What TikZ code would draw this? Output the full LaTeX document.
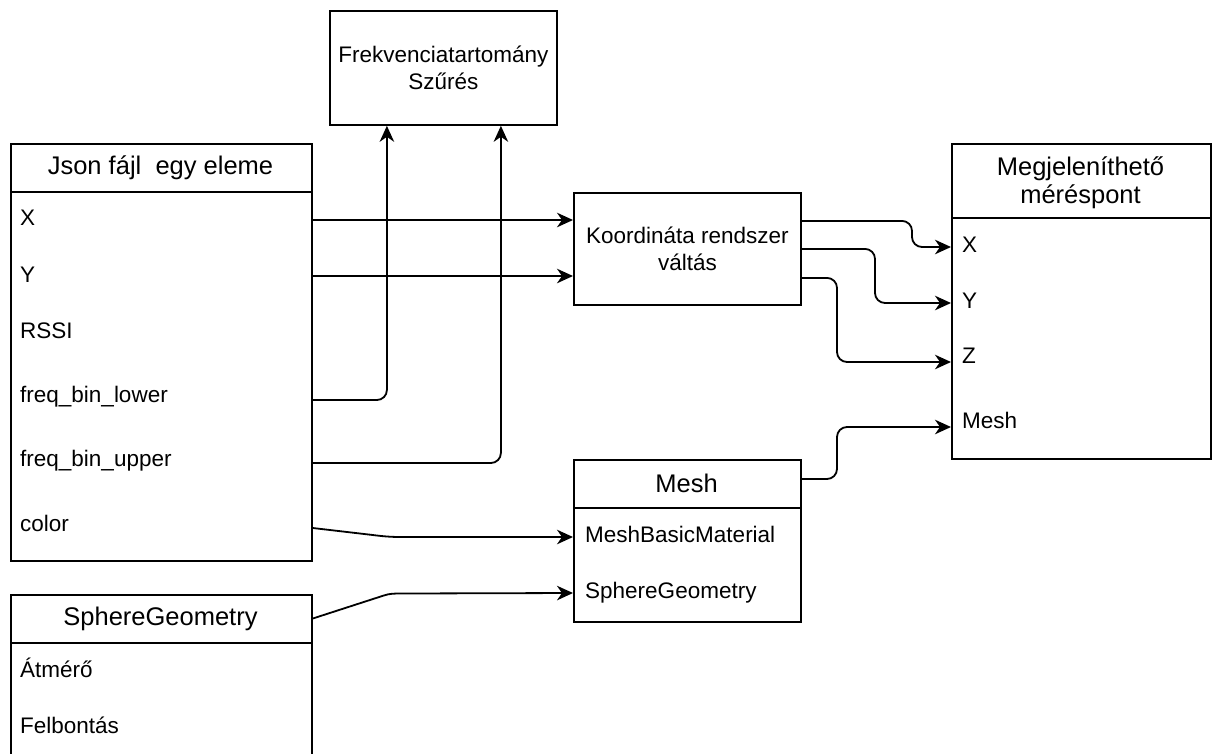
\documentclass[tikz,border=0pt]{standalone}
\usepackage{fontspec}
\setmainfont{Liberation Sans}
\usetikzlibrary{arrows.meta,calc}
\newcommand{\bodyfont}{\fontsize{22.5}{27}\selectfont}
\newcommand{\headfont}{\fontsize{25.5}{28}\selectfont}
\begin{document}
\begin{tikzpicture}[x=1pt,y=-1pt,
  box/.style={draw, line width=1.8pt, inner sep=0pt, anchor=north west},
  hdr/.style={font=\headfont, inner sep=0pt, align=center},
  txt/.style={font=\bodyfont, inner sep=0pt, anchor=base west},
  sepline/.style={line width=1.8pt},
  arr/.style={line width=1.8pt, -{Stealth[length=16pt,width=14.5pt,inset=5pt]}},
  con/.style={arr, rounded corners=10pt}]
\useasboundingbox (0,0) rectangle (1212,753);

% Frekvencia box
\node[box, minimum width=227pt, minimum height=114pt, font=\bodyfont, align=center] (frek) at (329,10) {Frekvenciatartomány\\Szűrés};

% Koordinata box
\node[box, minimum width=227pt, minimum height=112pt, font=\bodyfont, align=center] (kor) at (573,192) {Koordináta rendszer\\váltás};

% Json box
\node[box, minimum width=301pt, minimum height=417pt] (json) at (10,143) {};
\draw[sepline] ([yshift=-49pt]json.north west) -- ([yshift=-49pt]json.north east);
\node[hdr] (jh) at (160.5,167.5) {Json fájl\ \ egy eleme};
\node[txt] (jX) at (20,225) {X};
\node[txt] (jY) at (20,282) {Y};
\node[txt] (jR) at (20,338) {RSSI};
\node[txt] (jL) at (20,402) {freq\_bin\_lower};
\node[txt] (jU) at (20,466) {freq\_bin\_upper};
\node[txt] (jC) at (20,531) {color};

% Megjelenitheto box
\node[box, minimum width=259pt, minimum height=315pt] (meg) at (951,143) {};
\draw[sepline] ([yshift=-75pt]meg.north west) -- ([yshift=-75pt]meg.north east);
\node[hdr] (mh) at (1080.5,183) {Megjeleníthető\\méréspont};
\node[txt] (mX) at (962,252) {X};
\node[txt] (mY) at (962,308) {Y};
\node[txt] (mZ) at (962,363) {Z};
\node[txt] (mM) at (962,428) {Mesh};

% Mesh box
\node[box, minimum width=227pt, minimum height=162pt] (mesh) at (573,459) {};
\draw[sepline] ([yshift=-49pt]mesh.north west) -- ([yshift=-49pt]mesh.north east);
\node[hdr] (msh) at (686.5,483.5) {Mesh};
\node[txt] (mb1) at (585,542) {MeshBasicMaterial};
\node[txt] (mb2) at (585,598) {SphereGeometry};

% SphereGeometry box
\node[box, minimum width=301pt, minimum height=180pt] (sph) at (10,594) {};
\draw[sepline] ([yshift=-49pt]sph.north west) -- ([yshift=-49pt]sph.north east);
\node[hdr] (sh) at (160.5,618.5) {SphereGeometry};
\node[txt] (s1) at (20,677) {Átmérő};
\node[txt] (s2) at (20,733) {Felbontás};

% connectors from Json
\draw[arr] ($(json.east |- jX.base)+(0,-5)$) -- ($(kor.west |- jX.base)+(0,-5)$);
\draw[arr] ($(json.east |- jY.base)+(0,-6)$) -- ($(kor.west |- jY.base)+(0,-6)$);
\draw[con] ($(json.east |- jL.base)+(0,-2)$) -| ([xshift=-56.5pt]frek.south);
\draw[con] ($(json.east |- jU.base)+(0,-3)$) -| ([xshift=57.5pt]frek.south);
\draw[arr] ($(json.east |- jC.base)+(0,-3)$) -- ++(60,7) .. controls +(10,1.3) and +(-10,0) .. ++(28,2) -- ($(mesh.west |- mb1.base)+(0,-5)$);
\draw[arr] (sph.east |- sh) -- ++(71,-23) .. controls +(6,-2) and +(-8,0) .. ++(18,-2) -- ($(mesh.west |- mb2.base)+(0,-5)$);

% connectors from Koordinata
\draw[con] ([yshift=28pt]kor.east) -| ($(meg.west |- mX.base)+(-39,-5)$) -- ($(meg.west |- mX.base)+(0,-5)$);
\draw[con] (kor.east) -| ($(meg.west |- mY.base)+(-76,-5)$) -- ($(meg.west |- mY.base)+(0,-5)$);
\draw[con] ([yshift=-29pt]kor.east) -| ($(meg.west |- mZ.base)+(-114,-1)$) -- ($(meg.west |- mZ.base)+(0,-1)$);
\draw[con] ([yshift=-20pt]mesh.north east) -| ($(meg.west |- mM.base)+(-114,-1)$) -- ($(meg.west |- mM.base)+(0,-1)$);
\end{tikzpicture}
\end{document}
